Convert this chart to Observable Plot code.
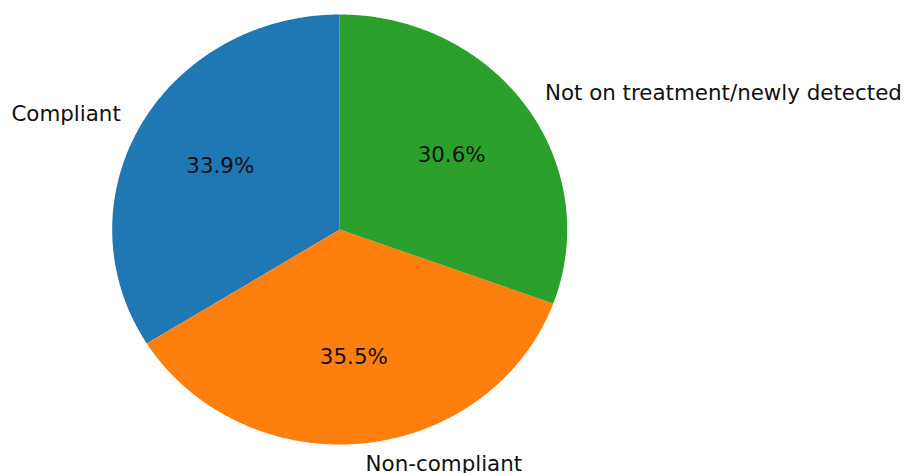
<!DOCTYPE html>
<html>
<head>
<meta charset="utf-8">
<script src="https://cdn.jsdelivr.net/npm/d3@7"></script>
<script src="https://cdn.jsdelivr.net/npm/@observablehq/plot@0.6"></script>
<style>
  html, body { margin: 0; padding: 0; background: #fff; }
  #chart svg { display: block; }
</style>
</head>
<body>
<div id="chart"></div>
<script>
const labels = ["Compliant", "Non-compliant", "Not on treatment/newly detected"];
const values = [33.9, 35.5, 30.6];
const colors = ["#1f77b4", "#ff7f0e", "#2ca02c"];

const total = d3.sum(values);
const slices = [];
let start = 90;
labels.forEach((label, i) => {
  const sweep = 360 * values[i] / total;
  slices.push({label, value: values[i], color: colors[i], t1: start, t2: start + sweep});
  start += sweep;
});
const rad = d => d * Math.PI / 180;

const wedgeMarks = slices.map(s => {
  const pts = [{x: 0, y: 0}];
  const n = Math.ceil(s.t2 - s.t1) * 2;
  for (let k = 0; k <= n; k++) {
    const t = rad(s.t1 + (s.t2 - s.t1) * k / n);
    pts.push({x: Math.cos(t), y: Math.sin(t)});
  }
  pts.push({x: 0, y: 0});
  return Plot.line(pts, {x: "x", y: "y", fill: s.color, stroke: "none", curve: "linear"});
});

const labelData = slices.map(s => {
  const m = rad((s.t1 + s.t2) / 2);
  return {
    label: s.label,
    pct: (100 * s.value / total).toFixed(1) + "%",
    lx: 1.1 * Math.cos(m), ly: 1.1 * Math.sin(m),
    px: 0.6 * Math.cos(m), py: 0.6 * Math.sin(m)
  };
});

const font = "DejaVu Sans, sans-serif";
const fs = 21.4;
const chart = Plot.plot({
  width: 904,
  height: 473,
  margin: 0,
  x: {domain: [-339.2 / 227.5, (904 - 339.2) / 227.5], range: [0, 904], axis: null},
  y: {domain: [-(473 - 229) / 215, 229 / 215], range: [473, 0], axis: null},
  style: {fontFamily: font, background: "#fff"},
  marks: [
    ...wedgeMarks,
    Plot.text(labelData.filter(d => d.lx < 0), {x: "lx", y: "ly", text: "label", textAnchor: "end", fontSize: fs, fill: "#111", dy: -1}),
    Plot.text(labelData.filter(d => d.lx >= 0), {x: "lx", y: "ly", text: "label", textAnchor: "start", fontSize: fs, fill: "#111", dy: -1}),
    Plot.text(labelData, {x: "px", y: "py", text: "pct", textAnchor: "middle", fontSize: fs, fill: "#111", dy: -1})
  ]
});
document.getElementById("chart").appendChild(chart);
</script>
</body>
</html>
